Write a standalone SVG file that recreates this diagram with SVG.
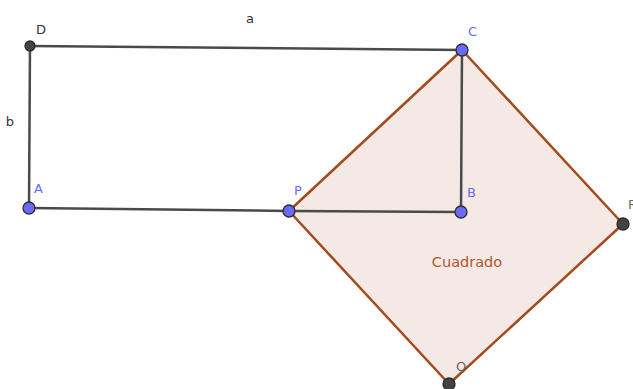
<svg xmlns="http://www.w3.org/2000/svg" width="633" height="389" viewBox="0 0 633 389">
<style>
.seg{stroke:#4a4a4a;stroke-width:2.5;fill:none;stroke-linecap:round}
.sq{fill:#f4e9e4;stroke:#a44a1e;stroke-width:2.5;stroke-linejoin:round}
.bp{fill:#6a6aff;stroke:#2e2e2e;stroke-width:1.3}
.dp{fill:#444;stroke:#2a2a2a;stroke-width:1.3}
.lb{font-family:"DejaVu Sans","Liberation Sans",sans-serif;font-size:13px}
.bl{fill:#6a6aff}
.bk{fill:#333}
.gr{fill:#666}
</style>
<rect width="633" height="389" fill="#fff"/>
<g id="square">
<polygon class="sq" points="289,211 462,50 623,224 449,384"/>
<text class="lb" x="467" y="267" text-anchor="middle" style="fill:#b0562e;font-size:14.5px">Cuadrado</text>
</g>
<g id="connectors">
<line class="seg" x1="30" y1="46" x2="462" y2="50"/>
<line class="seg" x1="30" y1="46" x2="29" y2="208"/>
<line class="seg" x1="29" y1="208" x2="289" y2="211"/>
<line class="seg" x1="289" y1="211" x2="461" y2="212"/>
<line class="seg" x1="462" y1="50" x2="461" y2="212"/>
</g>
<g id="label-a"><text class="lb bk" x="250" y="23" text-anchor="middle">a</text></g>
<g id="label-b"><text class="lb bk" x="10" y="126" text-anchor="middle">b</text></g>
<g id="D"><circle class="dp" cx="30" cy="46" r="5"/><text class="lb bk" x="36" y="34">D</text></g>
<g id="C"><circle class="bp" cx="462" cy="50" r="6"/><text class="lb bl" x="468" y="36">C</text></g>
<g id="A"><circle class="bp" cx="29" cy="208" r="6"/><text class="lb bl" x="34" y="193">A</text></g>
<g id="P"><circle class="bp" cx="289" cy="211" r="6"/><text class="lb bl" x="294" y="195">P</text></g>
<g id="B"><circle class="bp" cx="461" cy="212" r="6"/><text class="lb bl" x="467" y="197">B</text></g>
<g id="R"><circle class="dp" cx="623" cy="224" r="6"/><text class="lb gr" x="628" y="209">R</text></g>
<g id="Q"><circle class="dp" cx="449" cy="384" r="6"/><text class="lb gr" x="456" y="371">Q</text></g>
</svg>
